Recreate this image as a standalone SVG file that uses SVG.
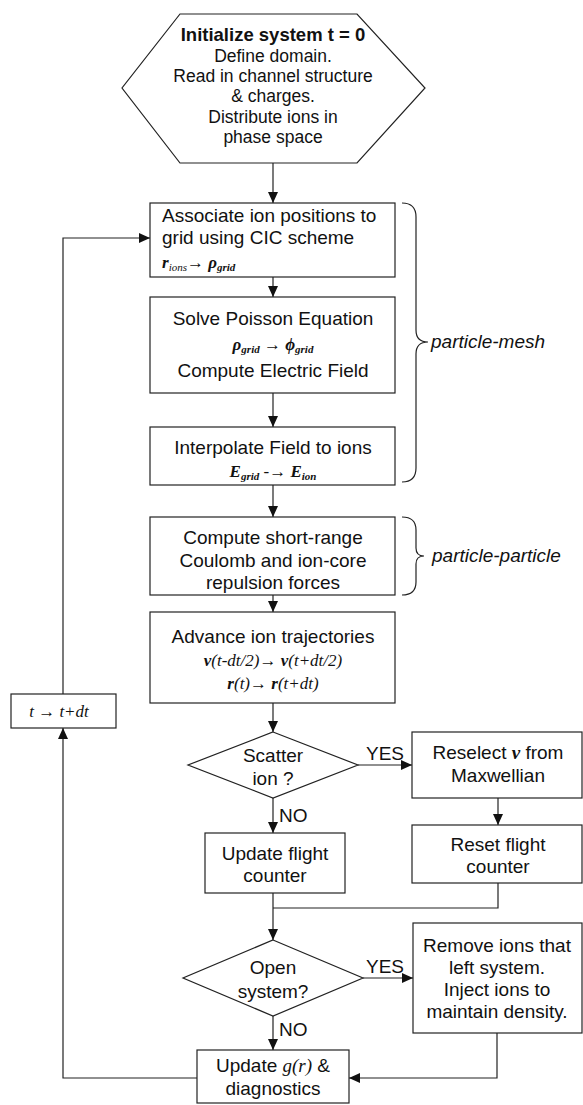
<svg xmlns="http://www.w3.org/2000/svg" width="583" height="1105" viewBox="0 0 583 1105">
<style>
.box{fill:#fff;stroke:#222;stroke-width:1.2}
.ln{fill:none;stroke:#222;stroke-width:1.2}
.t{font-family:"Liberation Sans",Arial,sans-serif;font-size:19px;fill:#111;text-anchor:middle}
.tl{font-family:"Liberation Sans",Arial,sans-serif;font-size:19px;fill:#111;text-anchor:start}
.h{font-family:"Liberation Sans",Arial,sans-serif;font-size:17.5px;fill:#111;text-anchor:middle}
.hb{font-family:"Liberation Sans",Arial,sans-serif;font-size:18.5px;font-weight:bold;fill:#111;text-anchor:middle}
.m{font-family:"Liberation Serif","Times New Roman",serif;font-style:italic;font-size:17px;fill:#111;text-anchor:middle}
.ml{font-family:"Liberation Serif","Times New Roman",serif;font-style:italic;font-size:17px;fill:#111;text-anchor:start}
.lab{font-family:"Liberation Sans",Arial,sans-serif;font-size:19px;fill:#111;font-style:italic;text-anchor:start}
.yn{font-family:"Liberation Sans",Arial,sans-serif;font-size:19px;fill:#111;text-anchor:start}
.b{font-weight:bold}
</style>
<defs>
<marker id="ah" markerUnits="userSpaceOnUse" markerWidth="12" markerHeight="10" refX="11" refY="5" orient="auto">
<path d="M0,0 L11,5 L0,10 z" fill="#111"/>
</marker>
</defs>
<rect width="583" height="1105" fill="#fff"/>

<g id="connectors">
<line class="ln" x1="273" y1="163" x2="273" y2="203" marker-end="url(#ah)"/>
<line class="ln" x1="273" y1="277" x2="273" y2="297" marker-end="url(#ah)"/>
<line class="ln" x1="273" y1="393" x2="273" y2="427" marker-end="url(#ah)"/>
<line class="ln" x1="273" y1="485" x2="273" y2="517" marker-end="url(#ah)"/>
<line class="ln" x1="273" y1="595" x2="273" y2="612" marker-end="url(#ah)"/>
<line class="ln" x1="273" y1="703" x2="273" y2="732" marker-end="url(#ah)"/>
<line class="ln" x1="358" y1="765" x2="412" y2="765" marker-end="url(#ah)"/>
<line class="ln" x1="273" y1="798" x2="273" y2="833" marker-end="url(#ah)"/>
<line class="ln" x1="498" y1="798" x2="498" y2="825" marker-end="url(#ah)"/>
<polyline class="ln" points="498,883 498,908 273,908"/>
<line class="ln" x1="273" y1="893" x2="273" y2="940" marker-end="url(#ah)"/>
<line class="ln" x1="363" y1="978" x2="413" y2="978" marker-end="url(#ah)"/>
<line class="ln" x1="273" y1="1016" x2="273" y2="1050" marker-end="url(#ah)"/>
<polyline class="ln" points="497,1033 497,1078 349,1078" marker-end="url(#ah)"/>
<polyline class="ln" points="197,1078 63,1078 63,728" marker-end="url(#ah)"/>
<polyline class="ln" points="63,694 63,238 150,238" marker-end="url(#ah)"/>
<text class="yn" x="366" y="760">YES</text>
<text class="yn" x="279" y="822">NO</text>
<text class="yn" x="366" y="973">YES</text>
<text class="yn" x="279" y="1036">NO</text>
</g>

<g id="init">
<polygon class="box" points="180,14 357,14 425,88 357,163 180,163 122,88"/>
<text class="hb" x="273" y="41">Initialize system t = 0</text>
<text class="h" x="273" y="61.5">Define domain.</text>
<text class="h" x="273" y="82">Read in channel structure</text>
<text class="h" x="273" y="102">&amp; charges.</text>
<text class="h" x="273" y="122.5">Distribute ions in</text>
<text class="h" x="273" y="143">phase space</text>
</g>

<g id="associate">
<rect class="box" x="150" y="203" width="245" height="74"/>
<text class="tl" x="162" y="222">Associate ion positions to</text>
<text class="tl" x="162" y="244">grid using CIC scheme</text>
<text class="ml" x="162" y="268"><tspan font-weight="bold">r</tspan><tspan font-size="11" dy="3">ions</tspan><tspan dy="-3">→ </tspan><tspan font-weight="bold">ρ</tspan><tspan font-size="11" dy="3" font-weight="bold">grid</tspan></text>
</g>

<g id="poisson">
<rect class="box" x="150" y="297" width="245" height="96"/>
<text class="t" x="273" y="325">Solve Poisson Equation</text>
<text class="m b" x="273" y="350">ρ<tspan font-size="11" dy="3">grid</tspan><tspan dy="-3" font-weight="normal"> → </tspan>ϕ<tspan font-size="11" dy="3">grid</tspan></text>
<text class="t" x="273" y="377">Compute Electric Field</text>
</g>

<g id="interpolate">
<rect class="box" x="150" y="427" width="245" height="58"/>
<text class="t" x="273" y="454">Interpolate Field to ions</text>
<text class="m b" x="273" y="477">E<tspan font-size="11" dy="3">grid</tspan><tspan dy="-3" font-weight="normal"> -→ </tspan>E<tspan font-size="11" dy="3">ion</tspan></text>
</g>

<g id="shortrange">
<rect class="box" x="150" y="517" width="245" height="78"/>
<text class="t" x="273" y="544">Compute short-range</text>
<text class="t" x="273" y="567">Coulomb and ion-core</text>
<text class="t" x="273" y="589">repulsion forces</text>
</g>

<g id="advance">
<rect class="box" x="150" y="612" width="245" height="91"/>
<text class="t" x="273" y="643">Advance ion trajectories</text>
<text class="m" x="273" y="666"><tspan font-weight="bold">v</tspan>(t-dt/2)→ <tspan font-weight="bold">v</tspan>(t+dt/2)</text>
<text class="m" x="273" y="689"><tspan font-weight="bold">r</tspan>(t)→ <tspan font-weight="bold">r</tspan>(t+dt)</text>
</g>

<g id="braces">
<path class="ln" d="M402,203 Q416,203 416,217 L416,330 Q416,342 428,342 Q416,342 416,354 L416,468 Q416,482 402,482"/>
<text class="lab" x="431" y="348">particle-mesh</text>
<path class="ln" d="M402,517 Q416,517 416,530 L416,548 Q416,556 424,556 Q416,556 416,564 L416,582 Q416,595 402,595"/>
<text class="lab" x="432" y="562">particle-particle</text>
</g>

<g id="timestep">
<rect class="box" x="11" y="694" width="105" height="34"/>
<text class="m" x="59" y="717" font-size="18">t  →  t+dt</text>
</g>

<g id="scatter">
<polygon class="box" points="273,732 358,765 273,798 188,765"/>
<text class="t" x="273" y="762">Scatter</text>
<text class="t" x="273" y="785">ion ?</text>
</g>

<g id="reselect">
<rect class="box" x="412" y="732" width="170" height="66"/>
<text class="t" x="498" y="759">Reselect <tspan font-family="Liberation Serif,serif" font-style="italic" font-weight="bold">v</tspan>  from</text>
<text class="t" x="498" y="782">Maxwellian</text>
</g>

<g id="reset">
<rect class="box" x="412" y="825" width="170" height="58"/>
<text class="t" x="498" y="851">Reset flight</text>
<text class="t" x="498" y="873">counter</text>
</g>

<g id="updateflight">
<rect class="box" x="205" y="833" width="140" height="60"/>
<text class="t" x="275" y="860">Update flight</text>
<text class="t" x="275" y="882">counter</text>
</g>

<g id="open">
<polygon class="box" points="273,940 363,978 273,1016 183,978"/>
<text class="t" x="273" y="974">Open</text>
<text class="t" x="273" y="998">system?</text>
</g>

<g id="remove">
<rect class="box" x="413" y="923" width="169" height="110"/>
<text class="t" x="497" y="952">Remove ions that</text>
<text class="t" x="497" y="974">left system.</text>
<text class="t" x="497" y="996">Inject ions to</text>
<text class="t" x="497" y="1018">maintain density.</text>
</g>

<g id="updategr">
<rect class="box" x="197" y="1050" width="152" height="53"/>
<text class="t" x="273" y="1072">Update <tspan font-family="Liberation Serif,serif" font-style="italic">g(r)</tspan> &amp;</text>
<text class="t" x="273" y="1095">diagnostics</text>
</g>
</svg>
